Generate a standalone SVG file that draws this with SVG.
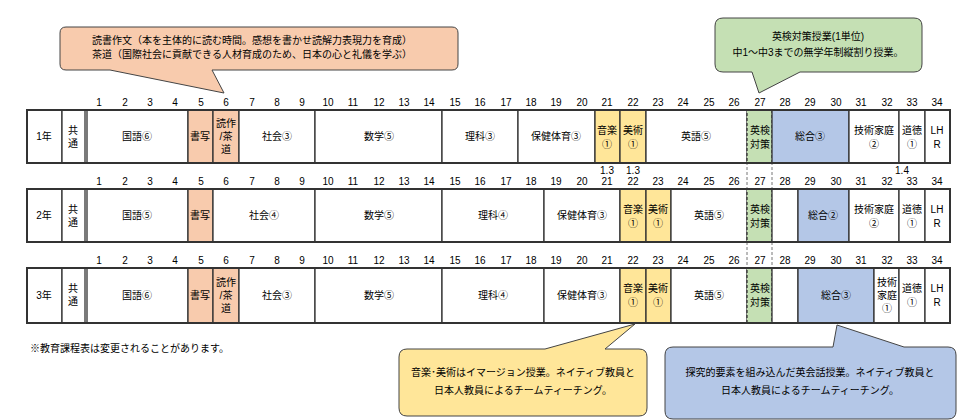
<svg xmlns="http://www.w3.org/2000/svg" width="980" height="420" viewBox="0 0 980 420">
<style>
text{font-family:"Liberation Sans","Noto Sans CJK JP",sans-serif;font-size:10px;fill:#000;text-anchor:middle}
.c{stroke:#333;stroke-width:1.3;fill:#fff}
.pk{fill:#f8cbad}.yl{fill:#ffe699}.gr{fill:#c5e0b4}.bl{fill:#b4c7e7}
.frame{fill:none;stroke:#333;stroke-width:2}
.dash{stroke:#777;stroke-width:1;stroke-dasharray:3,2;fill:none}
.call{stroke:#444;stroke-width:1}
</style>
<rect width="980" height="420" fill="#fff"/>
<g id="connectors">
<line class="dash" x1="747" y1="162" x2="747" y2="190"/><line class="dash" x1="772" y1="162" x2="772" y2="190"/>
<line class="dash" x1="747" y1="242" x2="747" y2="268"/><line class="dash" x1="772" y1="242" x2="772" y2="268"/>
</g>
<g id="numbers">
<g id="n1"><text x="99" y="106">1</text><text x="125" y="106">2</text><text x="150" y="106">3</text><text x="175" y="106">4</text><text x="201" y="106">5</text><text x="226" y="106">6</text><text x="252" y="106">7</text><text x="277" y="106">8</text><text x="302" y="106">9</text><text x="328" y="106">10</text><text x="353" y="106">11</text><text x="379" y="106">12</text><text x="404" y="106">13</text><text x="429" y="106">14</text><text x="455" y="106">15</text><text x="480" y="106">16</text><text x="506" y="106">17</text><text x="531" y="106">18</text><text x="556" y="106">19</text><text x="582" y="106">20</text><text x="607" y="106">21</text><text x="633" y="106">22</text><text x="658" y="106">23</text><text x="683" y="106">24</text><text x="709" y="106">25</text><text x="734" y="106">26</text><text x="760" y="106">27</text><text x="785" y="106">28</text><text x="810" y="106">29</text><text x="836" y="106">30</text><text x="861" y="106">31</text><text x="887" y="106">32</text><text x="912" y="106">33</text><text x="937" y="106">34</text></g>
<g id="n2" transform="translate(0,79)"><text x="99" y="106">1</text><text x="125" y="106">2</text><text x="150" y="106">3</text><text x="175" y="106">4</text><text x="201" y="106">5</text><text x="226" y="106">6</text><text x="252" y="106">7</text><text x="277" y="106">8</text><text x="302" y="106">9</text><text x="328" y="106">10</text><text x="353" y="106">11</text><text x="379" y="106">12</text><text x="404" y="106">13</text><text x="429" y="106">14</text><text x="455" y="106">15</text><text x="480" y="106">16</text><text x="506" y="106">17</text><text x="531" y="106">18</text><text x="556" y="106">19</text><text x="582" y="106">20</text><text x="607" y="106">21</text><text x="633" y="106">22</text><text x="658" y="106">23</text><text x="683" y="106">24</text><text x="709" y="106">25</text><text x="734" y="106">26</text><text x="760" y="106">27</text><text x="785" y="106">28</text><text x="810" y="106">29</text><text x="836" y="106">30</text><text x="861" y="106">31</text><text x="887" y="106">32</text><text x="912" y="106">33</text><text x="937" y="106">34</text></g>
<g id="n3" transform="translate(0,158)"><text x="99" y="106">1</text><text x="125" y="106">2</text><text x="150" y="106">3</text><text x="175" y="106">4</text><text x="201" y="106">5</text><text x="226" y="106">6</text><text x="252" y="106">7</text><text x="277" y="106">8</text><text x="302" y="106">9</text><text x="328" y="106">10</text><text x="353" y="106">11</text><text x="379" y="106">12</text><text x="404" y="106">13</text><text x="429" y="106">14</text><text x="455" y="106">15</text><text x="480" y="106">16</text><text x="506" y="106">17</text><text x="531" y="106">18</text><text x="556" y="106">19</text><text x="582" y="106">20</text><text x="607" y="106">21</text><text x="633" y="106">22</text><text x="658" y="106">23</text><text x="683" y="106">24</text><text x="709" y="106">25</text><text x="734" y="106">26</text><text x="760" y="106">27</text><text x="785" y="106">28</text><text x="810" y="106">29</text><text x="836" y="106">30</text><text x="861" y="106">31</text><text x="887" y="106">32</text><text x="912" y="106">33</text><text x="937" y="106">34</text></g>
<text x="607" y="174">1.3</text><text x="633" y="174">1.3</text><text x="902" y="174">1.4</text>
</g>
<g id="row1">
<rect class="c" x="27" y="110" width="35" height="53"/><text x="44" y="140">1年</text>
<rect class="c" x="62" y="110" width="23" height="53"/><text x="73" y="134">共</text><text x="73" y="147">通</text>
<rect class="c" x="87" y="110" width="101" height="53"/><text x="137" y="140">国語⑥</text>
<rect class="c pk" x="188" y="110" width="25" height="53"/><text x="200" y="140">書写</text>
<rect class="c pk" x="213" y="110" width="26" height="53"/><text x="226" y="127">読作</text><text x="226" y="140">/茶</text><text x="226" y="153">道</text>
<rect class="c" x="239" y="110" width="76" height="53"/><text x="277" y="140">社会③</text>
<rect class="c" x="315" y="110" width="127" height="53"/><text x="379" y="140">数学⑤</text>
<rect class="c" x="442" y="110" width="76" height="53"/><text x="480" y="140">理科③</text>
<rect class="c" x="518" y="110" width="77" height="53"/><text x="556" y="140">保健体育③</text>
<rect class="c yl" x="595" y="110" width="25" height="53"/><text x="607" y="134">音楽</text><text x="607" y="148">①</text>
<rect class="c yl" x="620" y="110" width="26" height="53"/><text x="633" y="134">美術</text><text x="633" y="148">①</text>
<rect class="c" x="646" y="110" width="101" height="53"/><text x="696" y="140">英語⑤</text>
<rect class="c gr" x="747" y="110" width="25" height="53" stroke-dasharray="3,2"/><text x="760" y="134">英検</text><text x="760" y="148">対策</text>
<rect class="c bl" x="772" y="110" width="77" height="53"/><text x="810" y="140">総合③</text>
<rect class="c" x="849" y="110" width="50" height="53"/><text x="874" y="134">技術家庭</text><text x="874" y="148">②</text>
<rect class="c" x="899" y="110" width="26" height="53"/><text x="912" y="134">道徳</text><text x="912" y="148">①</text>
<rect class="c" x="925" y="110" width="25" height="53"/><text x="937" y="134">LH</text><text x="937" y="148">R</text>
<rect class="frame" x="27" y="110" width="923" height="53"/>
</g>
<g id="row2">
<rect class="c" x="27" y="189" width="35" height="53"/><text x="44" y="219">2年</text>
<rect class="c" x="62" y="189" width="23" height="53"/><text x="73" y="213">共</text><text x="73" y="226">通</text>
<rect class="c" x="87" y="189" width="101" height="53"/><text x="137" y="219">国語⑤</text>
<rect class="c pk" x="188" y="189" width="25" height="53"/><text x="200" y="219">書写</text>
<rect class="c" x="213" y="189" width="102" height="53"/><text x="264" y="219">社会④</text>
<rect class="c" x="315" y="189" width="127" height="53"/><text x="379" y="219">数学⑤</text>
<rect class="c" x="442" y="189" width="102" height="53"/><text x="493" y="219">理科④</text>
<rect class="c" x="544" y="189" width="76" height="53"/><text x="582" y="219">保健体育③</text>
<rect class="c yl" x="620" y="189" width="26" height="53"/><text x="633" y="213">音楽</text><text x="633" y="227">①</text>
<rect class="c yl" x="646" y="189" width="25" height="53"/><text x="658" y="213">美術</text><text x="658" y="227">①</text>
<rect class="c" x="671" y="189" width="76" height="53"/><text x="709" y="219">英語⑤</text>
<rect class="c gr" x="747" y="189" width="25" height="53" stroke-dasharray="3,2"/><text x="760" y="213">英検</text><text x="760" y="227">対策</text>
<rect class="c" x="772" y="189" width="26" height="53"/>
<rect class="c bl" x="798" y="189" width="51" height="53"/><text x="823" y="219">総合②</text>
<rect class="c" x="849" y="189" width="50" height="53"/><text x="874" y="213">技術家庭</text><text x="874" y="227">②</text>
<rect class="c" x="899" y="189" width="26" height="53"/><text x="912" y="213">道徳</text><text x="912" y="227">①</text>
<rect class="c" x="925" y="189" width="25" height="53"/><text x="937" y="213">LH</text><text x="937" y="227">R</text>
<rect class="frame" x="27" y="189" width="923" height="53"/>
</g>
<g id="row3">
<rect class="c" x="27" y="268" width="35" height="55"/><text x="44" y="299">3年</text>
<rect class="c" x="62" y="268" width="23" height="55"/><text x="73" y="292">共</text><text x="73" y="305">通</text>
<rect class="c" x="87" y="268" width="101" height="55"/><text x="137" y="299">国語⑥</text>
<rect class="c pk" x="188" y="268" width="25" height="55"/><text x="200" y="299">書写</text>
<rect class="c pk" x="213" y="268" width="26" height="55"/><text x="226" y="286">読作</text><text x="226" y="299">/茶</text><text x="226" y="312">道</text>
<rect class="c" x="239" y="268" width="76" height="55"/><text x="277" y="299">社会③</text>
<rect class="c" x="315" y="268" width="127" height="55"/><text x="379" y="299">数学⑤</text>
<rect class="c" x="442" y="268" width="102" height="55"/><text x="493" y="299">理科④</text>
<rect class="c" x="544" y="268" width="76" height="55"/><text x="582" y="299">保健体育③</text>
<rect class="c yl" x="620" y="268" width="26" height="55"/><text x="633" y="292">音楽</text><text x="633" y="306">①</text>
<rect class="c yl" x="646" y="268" width="25" height="55"/><text x="658" y="292">美術</text><text x="658" y="306">①</text>
<rect class="c" x="671" y="268" width="76" height="55"/><text x="709" y="299">英語⑤</text>
<rect class="c gr" x="747" y="268" width="25" height="55" stroke-dasharray="3,2"/><text x="760" y="292">英検</text><text x="760" y="306">対策</text>
<rect class="c" x="772" y="268" width="26" height="55"/>
<rect class="c bl" x="798" y="268" width="76" height="55"/><text x="836" y="299">総合③</text>
<rect class="c" x="874" y="268" width="25" height="55"/><text x="887" y="286">技術</text><text x="887" y="299">家庭</text><text x="887" y="312">①</text>
<rect class="c" x="899" y="268" width="26" height="55"/><text x="912" y="292">道徳</text><text x="912" y="306">①</text>
<rect class="c" x="925" y="268" width="25" height="55"/><text x="937" y="292">LH</text><text x="937" y="306">R</text>
<rect class="frame" x="27" y="268" width="923" height="55"/>
</g>
<text x="30" y="352" style="text-anchor:start">※教育課程表は変更されることがあります。</text>
<g id="callout-pink">
<path class="call pk" d="M66,27 H452 Q458,27 458,33 V64 Q458,70 452,70 H212 L224,93 L110,70 H66 Q60,70 60,64 V33 Q60,27 66,27 Z"/>
<text x="252" y="44">読書作文（本を主体的に読む時間。感想を書かせ読解力表現力を育成）</text>
<text x="252" y="58">茶道（国際社会に貢献できる人材育成のため、日本の心と礼儀を学ぶ）</text>
</g>
<g id="callout-green">
<path class="call gr" d="M723,18 H914 Q922,18 922,26 V64 Q922,72 914,72 H800 L759,93 L752,72 H723 Q715,72 715,64 V26 Q715,18 723,18 Z"/>
<text x="818" y="40">英検対策授業(1単位)</text>
<text x="818" y="56">中1～中3までの無学年制縦割り授業。</text>
</g>
<g id="callout-yellow">
<path class="call yl" d="M407,349 H545 L635,324 L605,349 H639 Q647,349 647,357 V408 Q647,416 639,416 H407 Q399,416 399,408 V357 Q399,349 407,349 Z"/>
<text x="523" y="376">音楽･美術はイマージョン授業。ネイティブ教員と</text>
<text x="523" y="394">日本人教員によるチームティーチング。</text>
</g>
<g id="callout-blue">
<path class="call bl" d="M673,347 H833 L837,325 L904,347 H948 Q956,347 956,355 V411 Q956,419 948,419 H673 Q665,419 665,411 V355 Q665,347 673,347 Z"/>
<text x="810" y="376">探究的要素を組み込んだ英会話授業。ネイティブ教員と</text>
<text x="810" y="394">日本人教員によるチームティーチング。</text>
</g>
</svg>
